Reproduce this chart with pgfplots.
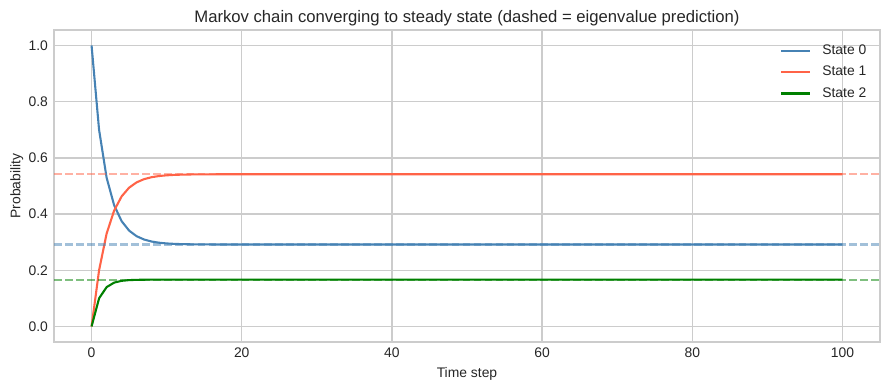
\documentclass[border=0pt]{standalone}
\usepackage{pgfplots}
\pgfplotsset{compat=1.18}
\usepackage{fontspec}
\setmainfont{Liberation Sans}
\definecolor{sblue}{HTML}{4682B4}
\definecolor{sred}{HTML}{FF6347}
\definecolor{sgreen}{HTML}{008000}
\definecolor{gridc}{HTML}{CCCCCC}
\definecolor{txt}{HTML}{262626}
\begin{document}
\begin{tikzpicture}
\useasboundingbox (-38.9pt,-34.3pt) rectangle (601.2pt,246.2pt);
\begin{axis}[
  at={(0,0)}, anchor=south west,
  scale only axis, width=594.7pt, height=224.6pt,
  xmin=-5, xmax=105, ymin=-0.055, ymax=1.055,
  xtick={0,20,40,60,80,100},
  ytick={0,0.2,0.4,0.6,0.8,1.0},
  yticklabel style={/pgf/number format/fixed, /pgf/number format/fixed zerofill, /pgf/number format/precision=1},
  /pgf/number format/assume math mode=true,
  major tick length=0pt,
  grid=major,
  major grid style={color=gridc, line width=1pt},
  axis line style={color=gridc, line width=1.25pt},
  tick label style={font=\fontsize{10}{12}\selectfont, text=txt},
  xticklabel style={inner sep=0pt, yshift=-3.8pt},
  yticklabel style={inner sep=0pt, xshift=-4.2pt},
  label style={font=\fontsize{10}{12}\selectfont, text=txt},
  xlabel={Time step},
  ylabel={Probability},
  xlabel style={at={(axis description cs:0.5,0)}, anchor=north, inner sep=0pt, yshift=-18.5pt},
  ylabel style={at={(axis description cs:0,0.5)}, anchor=south, inner sep=0pt, yshift=22pt},
  title={Markov chain converging to steady state (dashed = eigenvalue prediction)},
  title style={font=\fontsize{12}{14}\selectfont, text=txt, at={(axis description cs:0.5,1)}, anchor=south, inner sep=0pt, yshift=-3.5pt},
  legend style={at={(axis description cs:1,1)}, anchor=north east, xshift=-9.6pt, yshift=-10.5pt,
    draw=none, fill=none, inner sep=0pt, font=\fontsize{10}{12}\selectfont, text=txt,
    row sep=6.9pt, column sep=8pt,
    nodes={inner sep=0pt}},
  legend cell align=left,
  legend image code/.code={\draw[#1] (0pt,0pt) -- (21pt,0pt);},
]
\addplot[sblue, line width=1.5pt] coordinates {
(0,1) (1,0.7) (2,0.53) (3,0.432) (4,0.3748) (5,0.34112) (6,0.321168) (7,0.3092992)
(8,0.30221888) (9,0.29798707) (10,0.29545454) (11,0.29393764) (12,0.29302855)
(13,0.29248352) (14,0.29215667) (15,0.29196062) (16,0.29184302) (17,0.29177247)
(18,0.29173015) (19,0.29170476) (20,0.29168952) (25,0.29166785) (30,0.29166668)
(40,0.29166667) (60,0.29166667) (80,0.29166667) (100,0.29166667)};
\addlegendentry{State 0}
\addplot[sred, line width=1.5pt] coordinates {
(0,0) (1,0.2) (2,0.33) (3,0.412) (4,0.4628) (5,0.49392) (6,0.512848) (7,0.5243072)
(8,0.53122368) (9,0.53538995) (10,0.53789627) (11,0.53940268) (12,0.54030758)
(13,0.54085093) (14,0.54117711) (15,0.54137289) (16,0.54149038) (17,0.54156089)
(18,0.54160319) (19,0.54162858) (20,0.54164381) (25,0.54166548) (30,0.54166666)
(40,0.54166667) (60,0.54166667) (80,0.54166667) (100,0.54166667)};
\addlegendentry{State 1}
\addplot[sgreen, line width=1.5pt] coordinates {
(0,0) (1,0.1) (2,0.14) (3,0.156) (4,0.1624) (5,0.16496) (6,0.165984) (7,0.1663936)
(8,0.16655744) (9,0.16662298) (10,0.16664919) (11,0.16665968) (12,0.16666387)
(13,0.16666555) (14,0.16666622) (15,0.16666649) (16,0.1666666) (17,0.16666664)
(18,0.16666666) (19,0.16666666) (20,0.16666667) (30,0.16666667) (40,0.16666667)
(60,0.16666667) (80,0.16666667) (100,0.16666667)};
\addlegendentry{State 2}
\addplot[sblue, opacity=0.5, line width=1.5pt, dash pattern=on 5.55pt off 2.4pt, forget plot] coordinates {(-5,0.29166667) (105,0.29166667)};
\addplot[sred, opacity=0.5, line width=1.5pt, dash pattern=on 5.55pt off 2.4pt, forget plot] coordinates {(-5,0.54166667) (105,0.54166667)};
\addplot[sgreen, opacity=0.5, line width=1.5pt, dash pattern=on 5.55pt off 2.4pt, forget plot] coordinates {(-5,0.16666667) (105,0.16666667)};
\end{axis}
\end{tikzpicture}
\end{document}
